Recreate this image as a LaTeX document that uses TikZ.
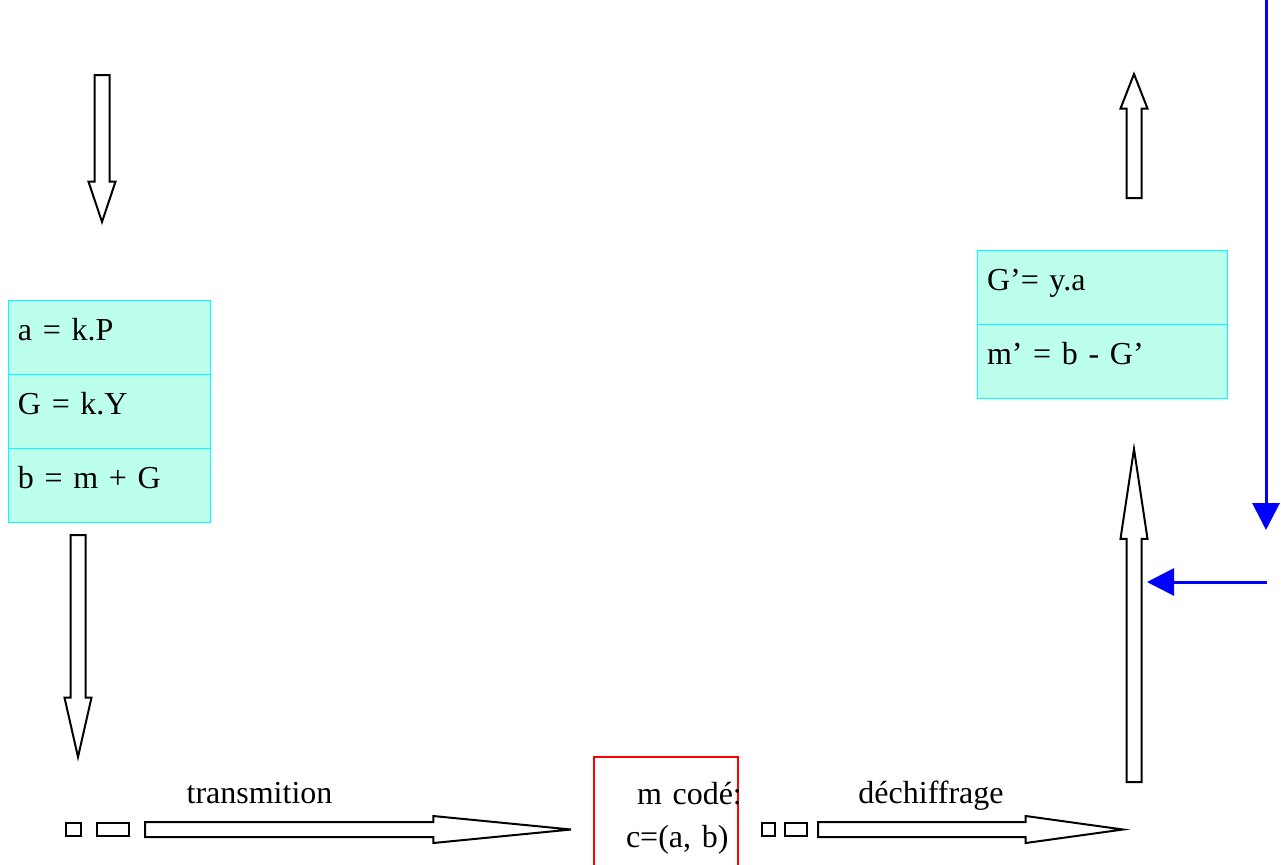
\documentclass[tikz,border=0pt]{standalone}
\usepackage{fontspec}
\setmainfont{Liberation Serif}[WordSpace=0.65]
\usepackage{tikz}
\usetikzlibrary{
  arrows.meta,
  positioning,
  shapes.arrows
}
\definecolor{ink}{HTML}{000000}
\definecolor{mint}{HTML}{BBFFEC}
\definecolor{aqua}{HTML}{00FFFF}
\definecolor{codered}{HTML}{FF0000}
\definecolor{keyblue}{HTML}{0000FF}
\newcommand{\txt}{\fontsize{16pt}{19pt}\selectfont}
\tikzset{
  hollow/.style={
    single arrow,
    draw=ink,
    fill=white,
    line width=1pt,
    inner xsep=0pt,
    inner ysep=3.25pt,
    outer sep=0pt,
    single arrow head extend=3pt
  },
  calcrow/.style={
    draw=aqua,
    fill=mint,
    line width=0.5pt,
    outer sep=0pt,
    inner xsep=5pt,
    inner ysep=0pt,
    text height=20pt,
    text depth=17pt,
    align=left,
    font=\txt
  },
  codebox/.style={
    draw=codered,
    fill=white,
    line width=0.75pt,
    outer sep=0pt,
    inner xsep=16pt,
    inner ysep=0pt,
    text width=40pt,
    align=left,
    font=\txt
  },
  stub/.style={
    draw=ink,
    line width=1pt,
    minimum height=6.5pt,
    inner sep=0pt,
    outer sep=0pt
  },
  keyline/.style={
    -{Triangle[length=13.5pt,width=13.5pt]},
    line width=1.5pt,
    draw=keyblue
  },
  steplabel/.style={
    anchor=base,
    font=\txt
  }
}

\begin{document}
\begin{tikzpicture}[x=0.5pt, y=-0.5pt]
  \useasboundingbox (0,0) rectangle (1281,864);

  % sender side
  \node[hollow, rotate=-90, anchor=tail, minimum height=73.5pt,
    single arrow tip angle=37] (inflow) at (102,75) {};
  \node[calcrow, text width=91pt, anchor=north west] (rowa) at (8,300) {a = k.P};
  \node[calcrow, text width=91pt, below=0pt of rowa] (rowg) {G = k.Y};
  \node[calcrow, text width=91pt, below=0pt of rowg] (rowb) {b = m + G};
  \node[hollow, rotate=-90, anchor=tail, minimum height=111pt,
    single arrow tip angle=25.6] (outflow) at (78,535) {};

  % transmission line
  \node[stub, minimum width=7.5pt] (dota) at (73.5,829.5) {};
  \node[stub, minimum width=16pt, right=8pt of dota] (dasha) {};
  \node[hollow, anchor=tail, minimum height=213pt,
    single arrow tip angle=11.2] (trans) at (145,829.5) {};
  \node[steplabel] (translbl) at (259.5,803) {transmition};

  \node[codebox, anchor=north west] (code) at (594,757)
    {\rule{0pt}{23.5pt}\hspace*{5.5pt}m~codé:\\[2.5pt]c=(a,~b)\rule[-20pt]{0pt}{20pt}};

  \node[stub, minimum width=6.5pt] (dotb) at (768.5,829.5) {};
  \node[stub, minimum width=11pt, right=5pt of dotb] (dashb) {};
  \node[hollow, anchor=tail, minimum height=152.5pt,
    single arrow tip angle=15.8] (dechi) at (818,829.5) {};
  \node[steplabel] (dechilbl) at (931,803) {déchiffrage};

  % receiver side
  \node[hollow, rotate=90, anchor=tail, minimum height=166.5pt,
    single arrow tip angle=17.1] (upflow) at (1134,782) {};
  \node[calcrow, text width=115pt, anchor=north west] (rowgp) at (977,250) {G’= y.a};
  \node[calcrow, text width=115pt, below=0pt of rowgp] (rowmp) {m’ = b - G’};
  \node[hollow, rotate=90, anchor=tail, minimum height=62pt,
    single arrow tip angle=42.7] (result) at (1134,198) {};

  % private key
  \coordinate (keytop) at (1266,0);
  \coordinate (keyend) at (1266,530);
  \coordinate (keyin) at (1267,582);
  \draw[keyline] (keytop) -- (keyend);
  \draw[keyline, shorten >=6.5pt] (keyin) -- (keyin -| upflow.center);
\end{tikzpicture}
\end{document}
